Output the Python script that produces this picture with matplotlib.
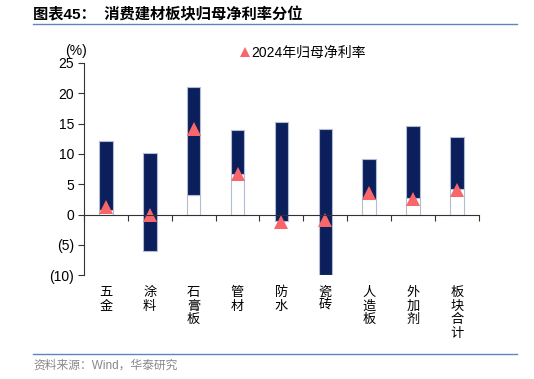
import matplotlib
matplotlib.use("Agg")
from matplotlib import pyplot as plt
import numpy as np

plt.rcParams['font.family'] = ['Liberation Sans', 'Noto Sans CJK SC', 'DejaVu Sans']

categories = ["五金", "涂料", "石膏板", "管材", "防水", "瓷砖", "人造板", "外加剂", "板块合计"]
low_vals = [0.7, -6.0, 3.3, 6.7, -1.1, -9.9, 2.6, 2.8, 4.2]
high_vals = [12.1, 10.2, 21.0, 14.0, 15.2, 14.1, 9.2, 14.6, 12.8]
margin_2024 = [1.3, 0.0, 14.1, 6.6, -1.3, -0.9, 3.5, 2.6, 4.0]
yticks = [25, 20, 15, 10, 5, 0, -5, -10]
ytick_labels = ["25", "20", "15", "10", "5", "0", "(5)", "(10)"]

navy = "#0a1f5c"
edge = "#b4bcd4"
red = "#f8666a"

fig = plt.figure(figsize=(5.34, 3.79), dpi=100)
ax = fig.add_axes([0.157, 0.274, 0.740, 0.560])

x = np.arange(len(categories))
low = np.array(low_vals)
high = np.array(high_vals)
base = np.where(low > 0, low, 0)
# white part from 0 to the low end, navy from low to high
ax.bar(x, base, width=0.31, color="white", edgecolor=edge, linewidth=0.8, zorder=2)
ax.bar(x, high - low, bottom=low, width=0.31, color=navy, edgecolor=edge, linewidth=0.8, zorder=2)
ax.plot(x, margin_2024, linestyle="none", marker="^", markersize=10, color=red,
        markeredgewidth=0, zorder=3, label="2024年归母净利率")

ax.set_xlim(-0.5, len(categories) - 0.5)
ax.set_ylim(-10, 25)
ax.set_yticks(yticks)
ax.set_yticklabels(ytick_labels, fontsize=10)
ax.set_xticks(np.arange(-0.5, len(categories), 1.0))
ax.set_xticklabels([])
ax.tick_params(axis="x", direction="out", length=4, width=0.8, color="#333333")
ax.tick_params(axis="y", direction="out", length=4, width=0.8, color="#333333", pad=3)

ax.spines["top"].set_visible(False)
ax.spines["right"].set_visible(False)
ax.spines["bottom"].set_position(("data", 0))
ax.spines["bottom"].set_color("#333333")
ax.spines["left"].set_color("#333333")
ax.spines["bottom"].set_zorder(4)

for i, c in enumerate(categories):
    ax.text(i, -11.8, "\n".join(c), ha="center", va="top", fontsize=9.5,
            linespacing=1.05, family=['Noto Sans CJK SC'])

fig.text(0.122, 0.866, "(%)", fontsize=10, ha="left", va="center")
ax.legend(loc="upper left", bbox_to_anchor=(0.385, 1.108), frameon=False, fontsize=10,
          handlelength=0.5, handletextpad=0.2, borderaxespad=0, markerscale=0.65)

fig.text(0.062, 0.962, "图表45：  消费建材板块归母净利率分位", fontsize=11, fontweight="bold",
         ha="left", va="center")
fig.add_artist(plt.Line2D([0.062, 0.968], [0.936, 0.936], color="#5b86c0", linewidth=1.0))
fig.add_artist(plt.Line2D([0.062, 0.968], [0.066, 0.066], color="#5b86c0", linewidth=1.0))
fig.text(0.062, 0.034, "资料来源：Wind，华泰研究", fontsize=8.5, color="#888888",
         ha="left", va="center")

fig.savefig("out.png", dpi=100)
